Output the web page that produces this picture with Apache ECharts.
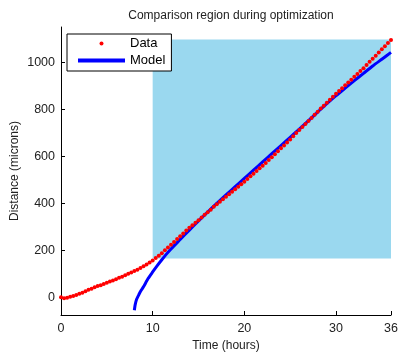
<!DOCTYPE html>
<html>
<head>
<meta charset="utf-8">
<title>Comparison region during optimization</title>
<script src="https://cdn.jsdelivr.net/npm/echarts@6.0.0/dist/echarts.min.js"></script>
<style>
	html, body { margin: 0; padding: 0; background: #fff; }
	#chart { width: 400px; height: 352px; }
</style>
</head>
<body>
<div id="chart"></div>
<script>
// measured distance, one sample every 20 minutes from t = 0 to t = 36 h
const dataStep = 1 / 3;
const dataValues = [
	0, -4, -2, 3, 6, 10, 15, 20, 26, 32, 37, 43, 48, 52, 57, 62, 68, 72,
	77, 83, 88, 94, 100, 106, 112, 118, 125, 132, 140, 148, 157, 167, 177, 188, 200, 212,
	224, 236, 248, 260, 272, 284, 296, 307, 317, 328, 340, 351, 362, 373, 385, 396, 407, 417,
	428, 439, 449, 460, 471, 481, 492, 503, 515, 526, 537, 549, 560, 572, 584, 596, 609, 621,
	634, 646, 659, 672, 685, 699, 712, 725, 737, 750, 763, 777, 790, 803, 815, 828, 841, 853,
	866, 878, 890, 902, 914, 926, 938, 950, 963, 975, 988, 1002, 1015, 1028, 1042, 1055, 1068, 1082,
	1095
];

// model curve
const modelTimes = [8, 8.1, 8.25, 8.5, 8.75, 9, 9.5, 10, 10.5, 11, 11.5, 12,
	13, 14, 15, 16, 17, 18, 19, 20, 21, 22, 23, 24, 25, 26, 27, 28, 29, 30, 31, 32, 33, 34, 35, 36];
const modelValues = [-55, -30, -8, 12, 30, 45, 80, 108, 135, 160, 184, 206,
	246, 286, 325, 363, 400, 436, 471, 506, 541, 576, 611, 646, 681, 716, 752, 788, 824, 858, 890, 922, 953, 984, 1013, 1042];

// comparison region (time range, distance range)
const regionX = [10, 36];
const regionY = [165, 1097];

const xTicks = [0, 10, 20, 30, 36];
const yTicks = [0, 200, 400, 600, 800, 1000];

let dataPoints = dataValues.map((v, i) => [i * dataStep, v]);
let modelPoints = modelTimes.map((t, i) => [t, modelValues[i]]);

const font = 'Liberation Sans, Arial, Helvetica, sans-serif';

var myChart = echarts.init(document.getElementById('chart'), null, { renderer: 'canvas' });
var option = {
	animation: false,
	backgroundColor: '#fff',
	textStyle: { fontFamily: font },
	title: {
		text: 'Comparison region during optimization',
		left: 226,
		textAlign: 'center',
		top: 5,
		textStyle: { fontSize: 12, fontWeight: 'normal', color: '#222', fontFamily: font },
	},
	grid: { left: 61, right: 9, top: 27, bottom: 37, outerBoundsMode: 'none', containLabel: false },
	legend: {
		orient: 'vertical',
		left: 67,
		top: 34,
		itemWidth: 47,
		itemHeight: 4,
		itemGap: 4,
		padding: [3, 6, 4, 11],
		borderColor: '#000',
		borderWidth: 1,
		backgroundColor: '#fff',
		textStyle: { fontSize: 13, color: '#000', fontFamily: font },
		data: [
			{ name: 'Data', icon: 'circle' },
			{ name: 'Model', icon: 'rect' },
		],
	},
	xAxis: {
		type: 'value',
		min: 0,
		max: 36,
		name: 'Time (hours)',
		nameLocation: 'middle',
		nameGap: 25,
		nameMoveOverlap: false,
		nameTextStyle: { fontSize: 12, color: '#222', fontFamily: font },
		axisLine: { onZero: false, lineStyle: { color: '#000', width: 1 } },
		axisTick: { inside: true, length: 4, customValues: xTicks, lineStyle: { color: '#000' } },
		axisLabel: { customValues: xTicks, margin: 7, fontSize: 12.5, color: '#222', fontFamily: font },
		splitLine: { show: false },
	},
	yAxis: {
		type: 'value',
		min: -75,
		max: 1150,
		name: 'Distance (microns)',
		nameLocation: 'middle',
		nameGap: 40,
		nameMoveOverlap: false,
		nameTextStyle: { fontSize: 12, color: '#222', fontFamily: font },
		axisLine: { show: true, onZero: false, lineStyle: { color: '#000', width: 1 } },
		axisTick: { show: true, inside: true, length: 4, customValues: yTicks, lineStyle: { color: '#000' } },
		axisLabel: {
			customValues: yTicks,
			margin: 6,
			fontSize: 12.5,
			color: '#222',
			fontFamily: font,
			formatter: (v) => String(v),
		},
		splitLine: { show: false },
	},
	series: [
		{
			name: 'region',
			type: 'line',
			data: [],
			z: 1,
			silent: true,
			markArea: {
				silent: true,
				itemStyle: { color: '#9ad8ef', opacity: 1 },
				data: [[{ coord: [regionX[0], regionY[0]] }, { coord: [regionX[1], regionY[1]] }]],
			},
		},
		{
			name: 'Model',
			type: 'line',
			data: modelPoints,
			symbol: 'none',
			smooth: 0.2,
			z: 2,
			lineStyle: { color: '#0000ff', width: 3 },
			itemStyle: { color: '#0000ff' },
		},
		{
			name: 'Data',
			type: 'scatter',
			data: dataPoints,
			symbol: 'circle',
			symbolSize: 4,
			z: 3,
			itemStyle: { color: '#ff0000', opacity: 1 },
		},
	],
};
option && myChart.setOption(option);
</script>
</body>
</html>
